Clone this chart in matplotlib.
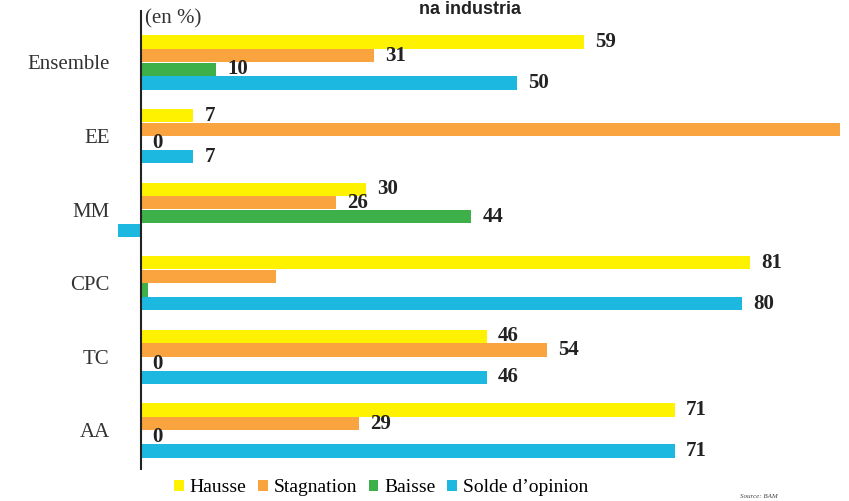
import matplotlib
matplotlib.use("Agg")
import matplotlib.pyplot as plt
from matplotlib.patches import Patch
import numpy as np

categories = ["Ensemble", "EE", "MM", "CPC", "TC", "AA"]
series_names = ["Hausse", "Stagnation", "Baisse", "Solde d\u2019opinion"]
hausse = [59, 7, 30, 81, 46, 71]
stagnation = [31, 93, 26, 18, 54, 29]
baisse = [10, 0, 44, 1, 0, 0]
solde = [50, 7, -14, 80, 46, 71]
hidden_labels = [("EE", 1), ("MM", 3), ("CPC", 1), ("CPC", 2)]

colors = ["#FFF200", "#F9A43E", "#3DB04A", "#1CB8E0"]
serif = ["Liberation Serif", "DejaVu Serif"]

fig = plt.figure(figsize=(8.49, 5.01), dpi=100)
ax = fig.add_axes([118 / 849, 1 - 470 / 501, 722 / 849, 460 / 501])

data = [hausse, stagnation, baisse, solde]
y = np.arange(len(categories))
step = 0.186
bh = 0.18
for j, vals in enumerate(data):
    pos = y + (j - 1.5) * step
    ax.barh(pos, vals, height=bh, color=colors[j], zorder=2)
    for i, v in enumerate(vals):
        if (categories[i], j) in hidden_labels:
            continue
        ax.text(max(v, 0) + 1.5, pos[i], f"{v}", ha="left", va="center",
                fontsize=15, fontweight="bold", family=serif, color="#222222")

ax.set_xlim(-3, 93)
ax.set_ylim(5.537, -0.713)
ax.axvline(0, color="#222222", lw=1.5, zorder=3)
for s in ax.spines.values():
    s.set_visible(False)
ax.set_xticks([])
ax.set_yticks(y)
ax.set_yticklabels(categories, family=serif, fontsize=15, color="#333333")
ax.tick_params(axis="y", length=0, pad=6)

fig.text(145 / 849, 1 - 19 / 501, "(en %)", family=serif, fontsize=15,
         va="center", ha="left", color="#333333")
fig.text(470 / 849, 1 - 1 / 501, "na industria", family=["Liberation Sans", "DejaVu Sans"],
         fontsize=13, fontweight="bold", ha="center", va="top", color="#222222")
fig.text(740 / 849, 1 - 497 / 501, "Source: BAM", family=serif, fontsize=5,
         style="italic", ha="left", va="center", color="#444444")

handles = [Patch(facecolor=c, edgecolor="none") for c in colors]
fig.legend(handles, series_names, loc="center", bbox_to_anchor=(381 / 849, 1 - 488 / 501),
           ncol=4, frameon=False, prop={"family": serif, "size": 14},
           handlelength=0.5, handleheight=0.5, handletextpad=0.3, columnspacing=0.6,
           borderpad=0)

fig.savefig("out.png", dpi=100)
